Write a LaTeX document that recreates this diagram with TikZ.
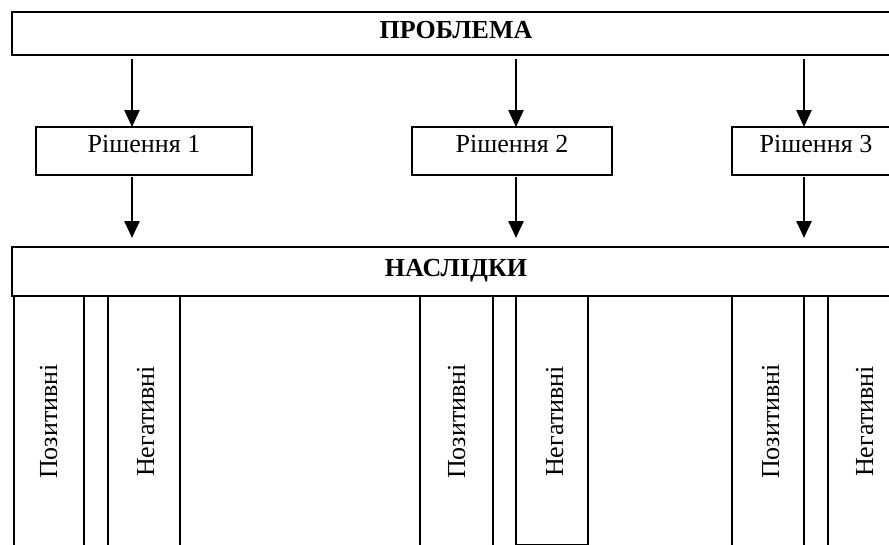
\documentclass[tikz,border=0pt]{standalone}
\usepackage{fontspec}
\setmainfont{Liberation Serif}
\usetikzlibrary{arrows.meta}
\begin{document}
\begin{tikzpicture}[x=1pt,y=-1pt,
  bx/.style={draw, line width=2pt, rectangle, inner xsep=0pt, inner ysep=0pt, outer sep=0pt, anchor=north west},
  col/.style={draw, line width=1.8pt, rectangle, inner sep=0pt, outer sep=0pt, anchor=north west, minimum height=280pt},
  lbl/.style={font=\fontsize{26}{30}\selectfont},
  ttl/.style={font=\fontsize{26}{30}\selectfont\bfseries},
  vlab/.style={font=\fontsize{26}{30}\selectfont, rotate=90, anchor=base, inner sep=0pt},
  arr/.style={line width=2.4pt, -{Triangle[width=15pt,length=17pt]}}]
\useasboundingbox (0,0) rectangle (889,544);
\clip (0,0) rectangle (889,544);
% top bar
\node[bx, ttl, minimum width=888pt, text height=26pt, text depth=17pt] (prob) at (12,12) {ПРОБЛЕМА};
% solutions
\node[bx, lbl, minimum width=216pt, text height=25pt, text depth=23pt] (r1) at (36,127) {Рішення 1};
\node[bx, lbl, minimum width=200pt, text height=25pt, text depth=23pt] (r2) at (412,127) {Рішення 2};
\node[bx, lbl, minimum width=168pt, text height=25pt, text depth=23pt] (r3) at (732,127) {Рішення 3};
% consequences
\node[bx, ttl, minimum width=888pt, text height=29pt, text depth=20pt] (nas) at (12,247) {НАСЛІДКИ};
% columns
\node[col, minimum width=70pt] (p1) at (14,296) {};
\node[col, minimum width=72pt] (n1) at (108,296) {};
\node[col, minimum width=73pt] (p2) at (420,296) {};
\node[col, minimum width=72pt, minimum height=248.6pt] (n2) at (516,296) {};
\node[col, minimum width=72pt] (p3) at (732,296) {};
\node[col, minimum width=72pt] (n3) at (828,296) {};
% column labels
\node[vlab] (tp1) at (57,421.5) {Позитивні};
\node[vlab] (tn1) at (154,421.5) {Негативні};
\node[vlab] (tp2) at (465,421.5) {Позитивні};
\node[vlab] (tn2) at (563,421.5) {Негативні};
\node[vlab] (tp3) at (779,421.5) {Позитивні};
\node[vlab] (tn3) at (873,421.5) {Негативні};
% arrow positions
\coordinate (c1) at (132,0);
\coordinate (c2) at (516,0);
\coordinate (c3) at (804,0);
\draw[arr, shorten <=4pt] (prob.south -| c1) -- (r1.north -| c1);
\draw[arr, shorten <=4pt] (prob.south -| c2) -- (r2.north -| c2);
\draw[arr, shorten <=4pt] (prob.south -| c3) -- (r3.north -| c3);
\draw[arr, shorten <=2pt, shorten >=9pt] (r1.south -| c1) -- (nas.north -| c1);
\draw[arr, shorten <=2pt, shorten >=9pt] (r2.south -| c2) -- (nas.north -| c2);
\draw[arr, shorten <=2pt, shorten >=9pt] (r3.south -| c3) -- (nas.north -| c3);
\end{tikzpicture}
\end{document}
